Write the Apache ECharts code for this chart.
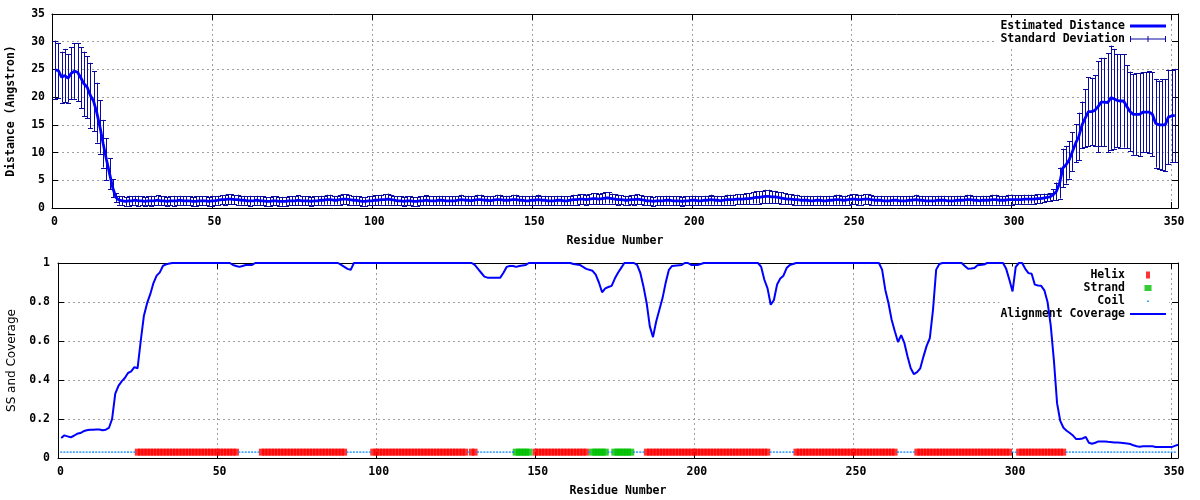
<!DOCTYPE html>
<html>
<head>
<meta charset="utf-8">
<script src="https://cdn.jsdelivr.net/npm/echarts@6/dist/echarts.min.js"></script>
<style>
html,body{margin:0;padding:0;background:#fff;}
#chart{width:1200px;height:500px;}
</style>
</head>
<body>
<div id="chart"></div>
<script>
// ---------- DATA (residues 1..351) ----------
const distMean = [
  24.9,24.8,23.6,23.9,23.4,24.3,24.7,24.5,23.5,22.4,21.8,20.3,19.3,17.2,14.6,11.6,8.8,6.2,3.6,1.9,1.4,
  1.3,1.2,1.3,1.3,1.4,1.3,1.3,1.2,1.3,1.3,
  1.3,1.4,1.3,1.3,1.2,1.3,1.3,1.3,1.4,1.3,
  1.3,1.3,1.2,1.2,1.3,1.3,1.3,1.2,1.3,1.3,
  1.4,1.5,1.5,1.6,1.6,1.5,1.5,1.4,1.4,1.3,
  1.3,1.3,1.4,1.3,1.3,1.2,1.2,1.3,1.3,1.2,
  1.2,1.2,1.3,1.3,1.3,1.4,1.3,1.3,1.3,1.2,
  1.3,1.3,1.4,1.4,1.5,1.5,1.4,1.4,1.5,1.6,
  1.6,1.5,1.4,1.4,1.3,1.2,1.2,1.3,1.3,1.4,
  1.4,1.5,1.5,1.6,1.5,1.4,1.3,1.3,1.2,1.3,
  1.3,1.2,1.2,1.3,1.3,1.4,1.3,1.3,1.3,1.4,
  1.4,1.3,1.3,1.3,1.3,1.4,1.5,1.4,1.4,1.3,
  1.4,1.5,1.5,1.4,1.4,1.3,1.4,1.5,1.5,1.4,
  1.4,1.4,1.5,1.5,1.4,1.4,1.3,1.3,1.4,1.4,
  1.5,1.4,1.4,1.3,1.3,1.3,1.4,1.4,1.3,1.3,
  1.4,1.5,1.5,1.6,1.6,1.5,1.6,1.7,1.7,1.6,
  1.7,1.8,1.8,1.7,1.6,1.5,1.5,1.4,1.4,1.5,
  1.5,1.6,1.5,1.4,1.3,1.3,1.2,1.3,1.3,1.3,
  1.4,1.4,1.3,1.3,1.3,1.2,1.3,1.3,1.4,1.4,
  1.3,1.3,1.4,1.4,1.5,1.4,1.4,1.3,1.4,1.5,
  1.5,1.5,1.6,1.6,1.6,1.7,1.7,1.8,1.9,1.9,
  2.0,2.1,2.1,2.0,2.0,1.9,1.8,1.7,1.6,1.6,
  1.5,1.5,1.4,1.4,1.4,1.3,1.3,1.4,1.4,1.3,
  1.3,1.4,1.4,1.5,1.5,1.4,1.4,1.5,1.6,1.6,
  1.5,1.5,1.6,1.6,1.5,1.4,1.4,1.4,1.3,1.3,
  1.3,1.4,1.4,1.3,1.3,1.3,1.4,1.4,1.5,1.4,
  1.4,1.3,1.3,1.3,1.3,1.4,1.4,1.4,1.3,1.3,
  1.3,1.4,1.4,1.4,1.5,1.5,1.4,1.4,1.3,1.4,
  1.4,1.4,1.5,1.5,1.4,1.4,1.4,1.5,1.5,1.5,
  1.5,1.5,1.6,1.6,1.6,1.6,1.7,1.7,1.8,1.9,
  2.0,2.4,3.0,4.5,7.2,7.8,8.7,10.2,11.7,12.9,15.0,16.2,17.4,17.4,17.6,18.3,19.1,19.1,19.0,19.9,
  19.7,19.4,19.3,19.3,18.3,17.4,16.9,16.9,16.9,17.3,17.3,17.3,16.9,15.3,15.0,15.0,15.0,16.4,16.6,16.7
];
const distSD = [
  5.3,5.0,4.6,4.8,4.4,4.7,5.0,5.2,5.5,5.8,5.6,5.9,5.4,5.4,4.8,4.3,3.8,2.8,1.6,0.8,0.8,
  0.8,0.8,0.9,0.8,0.8,0.9,0.8,0.8,0.8,0.9,
  0.8,0.9,0.8,0.8,0.8,0.8,0.9,0.8,0.8,0.8,
  0.8,0.8,0.8,0.9,0.8,0.8,0.8,0.8,0.9,0.8,
  0.8,0.8,0.9,0.9,0.9,0.8,0.9,0.8,0.8,0.8,
  0.9,0.8,0.8,0.8,0.8,0.8,0.8,0.8,0.8,0.8,
  0.8,0.8,0.8,0.8,0.8,0.9,0.8,0.8,0.8,0.8,
  0.8,0.8,0.8,0.8,0.9,0.9,0.8,0.8,0.9,0.9,
  0.9,0.9,0.8,0.8,0.8,0.8,0.8,0.8,0.8,0.9,
  0.9,0.9,1.0,1.0,0.9,0.8,0.8,0.8,0.8,0.8,
  0.8,0.8,0.8,0.8,0.8,0.9,0.8,0.8,0.8,0.8,
  0.8,0.8,0.8,0.8,0.8,0.8,0.9,0.8,0.8,0.8,
  0.8,0.9,0.9,0.8,0.8,0.8,0.8,0.9,0.9,0.8,
  0.8,0.8,0.9,0.9,0.8,0.8,0.8,0.8,0.8,0.8,
  0.9,0.8,0.8,0.8,0.8,0.8,0.8,0.8,0.8,0.8,
  0.8,0.9,0.9,0.9,0.9,0.9,0.9,1.0,1.0,0.9,
  1.0,1.0,1.0,0.9,0.9,0.9,0.8,0.8,0.8,0.8,
  0.9,0.9,0.8,0.8,0.8,0.8,0.8,0.8,0.8,0.8,
  0.8,0.8,0.8,0.8,0.8,0.8,0.8,0.8,0.8,0.8,
  0.8,0.8,0.8,0.8,0.9,0.8,0.8,0.8,0.8,0.9,
  0.9,0.9,0.9,0.9,0.9,1.0,1.0,1.0,1.1,1.1,
  1.1,1.2,1.2,1.1,1.1,1.0,1.0,1.0,0.9,0.9,
  0.9,0.9,0.8,0.8,0.8,0.8,0.8,0.8,0.8,0.8,
  0.8,0.8,0.8,0.9,0.9,0.8,0.8,0.9,0.9,0.9,
  0.9,0.9,0.9,0.9,0.9,0.8,0.8,0.8,0.8,0.8,
  0.8,0.8,0.8,0.8,0.8,0.8,0.8,0.8,0.9,0.8,
  0.8,0.8,0.8,0.8,0.8,0.8,0.8,0.8,0.8,0.8,
  0.8,0.8,0.8,0.8,0.9,0.9,0.8,0.8,0.8,0.8,
  0.8,0.8,0.9,0.9,0.8,0.8,0.8,0.9,0.9,0.8,
  0.8,0.8,0.8,0.8,0.8,0.8,0.8,0.8,0.8,0.7,
  0.7,1.0,1.6,2.8,3.5,3.4,3.4,3.5,3.4,4.3,4.2,5.2,6.2,6.1,6.4,8.2,8.0,8.0,8.9,9.4,
  9.0,8.4,8.4,8.4,7.5,7.2,7.3,7.4,7.5,7.2,7.2,7.4,7.6,8.0,8.0,8.2,8.3,8.5,8.3,8.4
];
// secondary structure segments [first residue, last residue]
const helixRanges  = [[25,56],[64,90],[99,128],[130,131],[150,166],[185,223],[232,263],[270,299],[302,316]];
const strandRanges = [[144,148],[168,172],[175,180]];
const coilRanges   = [[1,24],[57,63],[91,98],[129,129],[132,143],[167,167],[173,174],[181,184],[224,231],[264,269],[300,301],[317,351]];
const ssLevel = 0.03;
// alignment coverage [residue, value]
const coverage = [
  [1,0.103],[2,0.116],[3,0.111],[4,0.106],[5,0.114],[6,0.124],[7,0.128],[8,0.137],[9,0.142],[10,0.145],
  [11,0.145],[12,0.146],[13,0.146],[14,0.142],[15,0.145],[16,0.154],[17,0.20],[18,0.33],[19,0.37],[20,0.393],
  [21,0.41],[22,0.436],[23,0.444],[24,0.466],[25,0.46],[26,0.60],[27,0.73],[28,0.794],[29,0.84],[30,0.897],
  [31,0.935],[32,0.952],[33,0.986],[34,0.993],[35,0.997],[36,1],[54,1],[55,0.99],[56,0.985],[57,0.98],
  [58,0.985],[59,0.99],[61,0.99],[62,1],[88,1],[89,0.99],[90,0.98],[91,0.97],[92,0.965],[93,1],
  [130,1],[131,0.99],[132,0.97],[133,0.95],[134,0.93],[135,0.925],[139,0.925],[140,0.95],[141,0.98],[142,0.985],
  [143,0.985],[144,0.98],[145,0.985],[147,0.99],[148,1],[161,1],[162,0.995],[164,0.99],[165,0.98],[166,0.97],
  [168,0.96],[169,0.94],[170,0.90],[171,0.85],[172,0.87],[173,0.877],[174,0.883],[175,0.92],[176,0.95],[177,0.975],
  [178,1],[181,1],[182,0.99],[183,0.95],[184,0.88],[185,0.795],[186,0.675],[187,0.62],[188,0.70],[189,0.76],
  [190,0.82],[191,0.90],[192,0.965],[193,0.985],[196,0.99],[197,1],[198,1],[199,0.99],[201,0.99],[202,0.995],
  [203,1],[220,1],[221,0.98],[222,0.914],[223,0.87],[224,0.786],[225,0.81],[226,0.89],[227,0.92],[228,0.935],
  [229,0.974],[230,0.99],[231,0.995],[232,1],[258,1],[259,0.966],[260,0.863],[261,0.795],[262,0.709],[263,0.65],
  [264,0.595],[265,0.63],[266,0.59],[267,0.52],[268,0.46],[269,0.43],[270,0.44],[271,0.46],[272,0.52],[273,0.575],
  [274,0.615],[275,0.76],[276,0.966],[277,0.995],[278,1],[284,1],[285,0.985],[286,0.971],[287,0.972],[288,0.974],
  [289,0.988],[291,0.992],[292,1],[297,1],[298,0.97],[299,0.914],[300,0.854],[301,0.98],[302,1],[303,1],
  [304,0.97],[305,0.948],[306,0.945],[307,0.889],[308,0.885],[309,0.883],[310,0.86],[311,0.80],[312,0.68],[313,0.50],
  [314,0.28],[315,0.19],[316,0.155],[317,0.14],[318,0.128],[319,0.115],[320,0.097],[321,0.097],[322,0.10],[323,0.108],
  [324,0.078],[325,0.073],[326,0.078],[327,0.085],[329,0.085],[330,0.083],[332,0.08],[333,0.08],[334,0.078],[336,0.074],
  [337,0.072],[338,0.065],[339,0.06],[340,0.058],[341,0.06],[344,0.06],[345,0.056],[350,0.056],[351,0.062],[352,0.068]
];
const xMax = 352, xStep = 50;
const distMax = 35, distStep = 5;
const covMax = 1, covStep = 0.2;

// ---------- BUILD ----------
const meanData = distMean.map((m, i) => [i + 1, m]);
const errData = distMean.map((m, i) => [i + 1, m - distSD[i], m + distSD[i]]);
function expand(ranges) {
  const out = [];
  ranges.forEach(([a, b]) => { for (let r = a; r <= b; r++) out.push([r, ssLevel]); });
  return out;
}
const MONO = '"DejaVu Sans Mono", "Liberation Mono", monospace';
const lblStyle = { color: '#000', fontFamily: MONO, fontWeight: 'bold', fontSize: 11.5 };
const errColor = '#0a0a9e';
const gridLine = { show: true, showMinLine: false, showMaxLine: false, lineStyle: { color: '#a0a0a0', type: [2, 3], width: 1 } };

function xAxisMain(gi) {
  return { type: 'value', gridIndex: gi, min: 0, max: xMax, interval: xStep, position: 'bottom',
    name: 'Residue Number', nameLocation: 'middle', nameGap: 27, nameTextStyle: lblStyle,
    axisLine: { onZero: false, lineStyle: { color: '#000', width: 1 } },
    axisTick: { inside: true, length: 6, lineStyle: { color: '#000' } },
    axisLabel: Object.assign({ margin: 8, showMaxLabel: false, padding: [0, 0, 0, 5] }, lblStyle),
    splitLine: gridLine };
}
function xAxisMirror(gi) {
  return { type: 'value', gridIndex: gi, min: 0, max: xMax, interval: xStep, position: 'top',
    axisLine: { onZero: false, lineStyle: { color: '#000', width: 1 } },
    axisTick: { inside: true, length: 6, lineStyle: { color: '#000' } },
    axisLabel: { show: false }, splitLine: { show: false } };
}
function yAxisMirror(gi, max, step) {
  return { type: 'value', gridIndex: gi, min: 0, max: max, interval: step, position: 'right',
    axisLine: { show: true, onZero: false, lineStyle: { color: '#000', width: 1 } },
    axisTick: { show: true, inside: true, length: 6, lineStyle: { color: '#000' } },
    axisLabel: { show: false }, splitLine: { show: false } };
}
function renderErr(params, api) {
  const x = api.value(0), lo = api.value(1), hi = api.value(2);
  const p1 = api.coord([x, hi]), p2 = api.coord([x, lo]);
  const px = Math.round(p1[0]) + 0.5;
  const st = { stroke: errColor, lineWidth: 1, fill: null };
  const w = 2.5;
  return { type: 'group', children: [
    { type: 'line', shape: { x1: px, y1: p1[1], x2: px, y2: p2[1] }, style: st },
    { type: 'line', shape: { x1: px - w, y1: Math.round(p1[1]) + 0.5, x2: px + w, y2: Math.round(p1[1]) + 0.5 }, style: st },
    { type: 'line', shape: { x1: px - w, y1: Math.round(p2[1]) + 0.5, x2: px + w, y2: Math.round(p2[1]) + 0.5 }, style: st }
  ]};
}
// legend icons in a 36x9 box (tiny corner pieces fix the box)
const BOX = 'M0,0h0.01v0.01h-0.01z M36,9h-0.01v-0.01h0.01z ';
const ICON_LINE3 = 'path://' + BOX + 'M0,3h36v3h-36z';
const ICON_LINE2 = 'path://' + BOX + 'M0,3.5h36v2h-36z';
const ICON_ERR = 'path://' + BOX + 'M0,1.5h1v6h-1z M35,1.5h1v6h-1z M17.5,1.5h1v6h-1z M0,4h36v1h-36z';
const ICON_HELIX = 'path://' + BOX + 'M16,1h4v7h-4z';
const ICON_STRAND = 'path://' + BOX + 'M14.5,1.5h7v6h-7z';
const ICON_COIL = 'path://' + BOX + 'M17,4h2v1.5h-2z';

const legendBase = { orient: 'vertical', align: 'right', itemWidth: 36, itemHeight: 9, itemGap: 0,
  selectedMode: false, backgroundColor: '#fff', z: 1, itemStyle: { borderWidth: 0 },
  textStyle: Object.assign({ lineHeight: 13 }, lblStyle) };

const option = {
  animation: false,
  backgroundColor: '#fff',
  grid: [
    { left: 52, right: 22, top: 14, height: 194, containLabel: false, outerBoundsMode: 'none' },
    { left: 58, right: 22, top: 263, height: 195, containLabel: false, outerBoundsMode: 'none' }
  ],
  xAxis: [ xAxisMain(0), xAxisMirror(0), xAxisMain(1), xAxisMirror(1) ],
  yAxis: [
    { type: 'value', gridIndex: 0, min: 0, max: distMax, interval: distStep, position: 'left',
      name: 'Distance (Angstron)', nameLocation: 'middle', nameGap: 35, nameRotate: 90, nameTextStyle: lblStyle,
      axisLine: { show: true, onZero: false, lineStyle: { color: '#000' } },
      axisTick: { show: true, inside: true, length: 6, lineStyle: { color: '#000' } },
      axisLabel: Object.assign({ margin: 7 }, lblStyle), splitLine: gridLine },
    yAxisMirror(0, distMax, distStep),
    { type: 'value', gridIndex: 1, min: 0, max: covMax, interval: covStep, position: 'left',
      name: 'SS and Coverage', nameLocation: 'middle', nameGap: 40, nameRotate: 90,
      nameTextStyle: { color: '#000', fontFamily: '"DejaVu Sans", sans-serif', fontSize: 12 },
      axisLine: { show: true, onZero: false, lineStyle: { color: '#000' } },
      axisTick: { show: true, inside: true, length: 6, lineStyle: { color: '#000' } },
      axisLabel: Object.assign({ margin: 8 }, lblStyle), splitLine: gridLine },
    yAxisMirror(1, covMax, covStep)
  ],
  legend: [
    Object.assign({}, legendBase, { right: 31, top: 17.5, padding: [2, 3, 2, 6],
      data: [
        { name: 'Estimated Distance', icon: ICON_LINE3, itemStyle: { color: '#0000ff', borderWidth: 0 } },
        { name: 'Standard Deviation', icon: ICON_ERR, itemStyle: { color: errColor, borderWidth: 0 } }
      ] }),
    Object.assign({}, legendBase, { right: 31, top: 266.5, padding: [2, 3, 2, 1],
      data: [
        { name: 'Helix', icon: ICON_HELIX, itemStyle: { color: '#ff0000', borderWidth: 0 } },
        { name: 'Strand', icon: ICON_STRAND, itemStyle: { color: '#00c000', borderWidth: 0 } },
        { name: 'Coil', icon: ICON_COIL, itemStyle: { color: '#0a84ff', borderWidth: 0 } },
        { name: 'Alignment Coverage', icon: ICON_LINE2, itemStyle: { color: '#0000ff', borderWidth: 0 } }
      ] })
  ],
  series: [
    { name: 'Standard Deviation', type: 'custom', xAxisIndex: 0, yAxisIndex: 0, renderItem: renderErr,
      data: errData, encode: { x: 0, y: [1, 2] }, itemStyle: { color: errColor }, clip: true, z: 2, silent: true },
    { name: 'Estimated Distance', type: 'line', xAxisIndex: 0, yAxisIndex: 0, data: meanData,
      symbol: 'none', lineStyle: { color: '#0000ff', width: 2.8 }, itemStyle: { color: '#0000ff' }, z: 3, silent: true },
    { name: 'Helix', type: 'scatter', xAxisIndex: 2, yAxisIndex: 2, data: expand(helixRanges),
      symbol: 'rect', symbolSize: [5.5, 7], itemStyle: { color: '#ff0000' }, z: 2, silent: true },
    { name: 'Strand', type: 'scatter', xAxisIndex: 2, yAxisIndex: 2, data: expand(strandRanges),
      symbol: 'rect', symbolSize: [7, 7], itemStyle: { color: '#00c000' }, z: 2, silent: true },
    { name: 'Coil', type: 'scatter', xAxisIndex: 2, yAxisIndex: 2, data: expand(coilRanges),
      symbol: 'rect', symbolSize: [2, 1.6], itemStyle: { color: '#0a84ff' }, z: 2, silent: true },
    { name: 'Alignment Coverage', type: 'line', xAxisIndex: 2, yAxisIndex: 2, data: coverage,
      symbol: 'none', lineStyle: { color: '#0000ff', width: 2 }, itemStyle: { color: '#0000ff' }, z: 3, silent: true, clip: true }
  ]
};
const chart = echarts.init(document.getElementById('chart'), null, { renderer: 'canvas' });
chart.setOption(option);
</script>
</body>
</html>
